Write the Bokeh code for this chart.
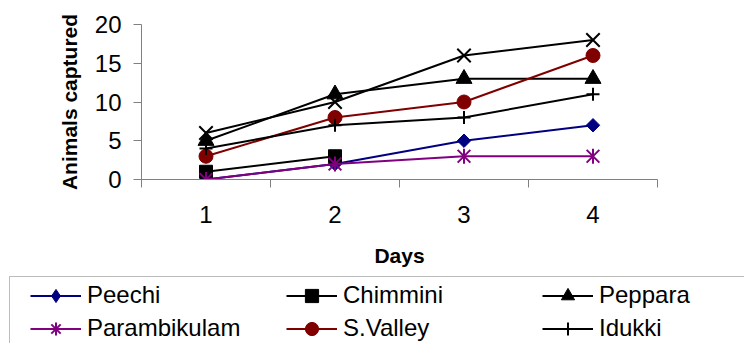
import math

import numpy as np
from bokeh.embed import file_html
from bokeh.layouts import column
from bokeh.models import BoxAnnotation, FixedTicker, Legend, LegendItem, Range1d
from bokeh.plotting import figure
from bokeh.resources import INLINE

# ---- data -------------------------------------------------------------
days = [1, 2, 3, 4]
peechi = [0, 2, 5, 7]
chimmini = [1, 3, np.nan, np.nan]
peppara = [5, 11, 13, 13]
parambikulam = [0, 2, 3, 3]
s_valley = [3, 8, 10, 16]
idukki = [4, 7, 8, 11]
seventh_site = [6, 10, 16, 18]

y_ticks = [0, 5, 10, 15, 20]
x_tick_labels = ["1", "2", "3", "4"]

FONT = "Liberation Sans"
NAVY = "#000080"
PURPLE = "#800080"
MAROON = "#800000"
BLACK = "#000000"
AXIS_GREY = "#808080"

# ---- chart ------------------------------------------------------------
p = figure(
    width=744,
    height=270,
    x_range=Range1d(0.5, 4.5),
    y_range=Range1d(0, 20),
    output_backend="svg",
    toolbar_location=None,
    min_border_left=141,
    min_border_right=87,
    min_border_top=24,
    min_border_bottom=91,
)
p.frame_align = False
p.grid.visible = False
p.outline_line_color = None
p.background_fill_color = "white"
p.border_fill_color = "white"

p.xaxis.ticker = FixedTicker(ticks=days, minor_ticks=[0.5, 1.5, 2.5, 3.5, 4.5])
p.xaxis.major_label_overrides = {d: lab for d, lab in zip(days, x_tick_labels)}
p.xaxis.major_tick_out = 0
p.xaxis.major_tick_in = 0
p.xaxis.minor_tick_out = 8
p.xaxis.minor_tick_in = 0
p.xaxis.minor_tick_line_color = AXIS_GREY
p.xaxis.major_label_standoff = 18
p.xaxis.axis_label = "Days"
p.xaxis.axis_label_standoff = 18

p.yaxis.ticker = FixedTicker(ticks=y_ticks, minor_ticks=[])
p.yaxis.major_tick_out = 8
p.yaxis.major_tick_in = 0
p.yaxis.major_label_standoff = 12
p.yaxis.axis_label = "Animals captured"
p.yaxis.axis_label_standoff = 11

for ax in (p.xaxis, p.yaxis):
    ax.axis_line_color = AXIS_GREY
    ax.axis_line_width = 1
    ax.major_tick_line_color = AXIS_GREY
    ax.major_label_text_font = FONT
    ax.major_label_text_font_size = "24px"
    ax.major_label_text_color = BLACK
    ax.axis_label_text_font = FONT
    ax.axis_label_text_font_size = "21px"
    ax.axis_label_text_font_style = "bold"
    ax.axis_label_text_color = BLACK

# (label, values, colour, markers on the chart, marker in the key)
site_styles = [
    ("Peechi", peechi, NAVY,
     [dict(marker="square", size=9.5, angle=math.pi / 4)], "diamond"),
    ("Chimmini", chimmini, BLACK,
     [dict(marker="square", size=13)], "square"),
    ("Peppara", peppara, BLACK,
     [dict(marker="triangle", size=16)], "triangle"),
    ("Parambikulam", parambikulam, PURPLE,
     [dict(marker="x", size=18, line_width=2),
      dict(marker="dash", size=15, angle=math.pi / 2, line_width=2)], "asterisk"),
    ("S.Valley", s_valley, MAROON,
     [dict(marker="circle", size=14)], "circle"),
    ("Idukki", idukki, BLACK,
     [dict(marker="cross", size=13, line_width=2)], "cross"),
    (None, seventh_site, BLACK,
     [dict(marker="x", size=19, line_width=2)], None),
]

for label, values, color, markers, _ in site_styles:
    p.line(days, values, line_color=color, line_width=2)
    for kw in markers:
        p.scatter(days, values, fill_color=color, line_color=color, **kw)

# ---- key below the chart ----------------------------------------------
key = figure(
    width=744,
    height=73,
    x_range=Range1d(0, 744),
    y_range=Range1d(0, 73),
    x_axis_type=None,
    y_axis_type=None,
    output_backend="svg",
    toolbar_location=None,
    min_border=0,
)
key.frame_align = False
key.outline_line_color = None
key.background_fill_color = "white"
key.border_fill_color = "white"
# the key's series sit on a range that keeps them out of its frame,
# so they only feed the legend glyphs
key.extra_y_ranges = {"series": Range1d(100, 120)}

key.add_layout(BoxAnnotation(
    left=9, right=900, top=67, bottom=-30,
    fill_alpha=0, line_color="#222222", line_width=1,
))

items = []
for label, values, color, markers, key_marker in site_styles:
    if label is None:
        continue
    lw = 2 if key_marker in ("cross", "asterisk") else 1
    r_line = key.line(days, values, y_range_name="series",
                      line_color=color, line_width=2)
    r_mark = key.scatter(days, values, y_range_name="series", marker=key_marker,
                         fill_color=color, line_color=color, line_width=lw)
    items.append(LegendItem(label=label, renderers=[r_line, r_mark]))

key.add_layout(Legend(
    items=items,
    location=(30, -1.5),
    orientation="horizontal",
    ncols=3,
    padding=0,
    margin=0,
    spacing=0,
    glyph_width=51,
    glyph_height=33,
    label_width=199,
    label_height=33,
    label_standoff=6,
    label_text_font=FONT,
    label_text_font_size="24px",
    label_text_color=BLACK,
    border_line_color=None,
    background_fill_alpha=0,
))

layout = column(p, key, spacing=0)
open("out.html", "w").write(file_html(layout, INLINE))
